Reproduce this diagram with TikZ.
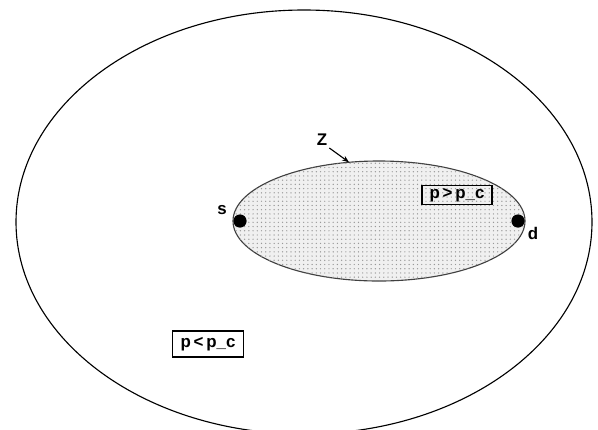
\documentclass[tikz,border=0pt]{standalone}
\usepackage{fontspec}
\setmainfont{Liberation Sans}
\usepackage{xcolor}
\usepackage{tikz}
\usetikzlibrary{shapes.geometric, arrows.meta, positioning, patterns}

\begin{document}
\begin{tikzpicture}[
  every node/.style={font=\fontsize{12}{14}\selectfont\bfseries},
  region/.style={ellipse, draw=black, thick, inner sep=0pt, outer sep=0pt},
  zone/.style={region, draw=black!75, fill=gray!12,
               postaction={pattern=dots, pattern color=gray!80}},
  terminal/.style={circle, fill=black, inner sep=0pt, minimum size=0.33cm},
  cond/.style={rectangle, draw=black, thick, inner sep=2pt, align=center},
  arr/.style={-{Stealth[length=5pt]}, thick},
]
\useasboundingbox (0,0) rectangle (14.95,-10.725);

\node[region] (world) at (7.6,-5.55) [minimum width=14.4cm, minimum height=10.6cm] {};
\node[zone]   (zone)  at (9.475,-5.525) [minimum width=7.3cm, minimum height=3cm] {};

\node[terminal] (src) at (6.0,-5.525) {};
\node[terminal] (dst) at (12.95,-5.525) {};
\node (slabel) at (5.55,-5.25)  {s};
\node (dlabel) at (13.325,-5.825) {d};

\node (zlabel) at (8.05,-3.5) {Z};
\draw[arr] ([xshift=-2pt,yshift=2pt]zlabel.south east) -- (zone.117);

\node[cond] (above) at (11.425,-4.875) [minimum width=1.75cm, minimum height=0.475cm] {p\,>\,p\_c};
\node[cond] (below) at (5.2,-8.6)      [minimum width=1.775cm, minimum height=0.65cm] {p\,<\,p\_c};

\end{tikzpicture}
\end{document}
